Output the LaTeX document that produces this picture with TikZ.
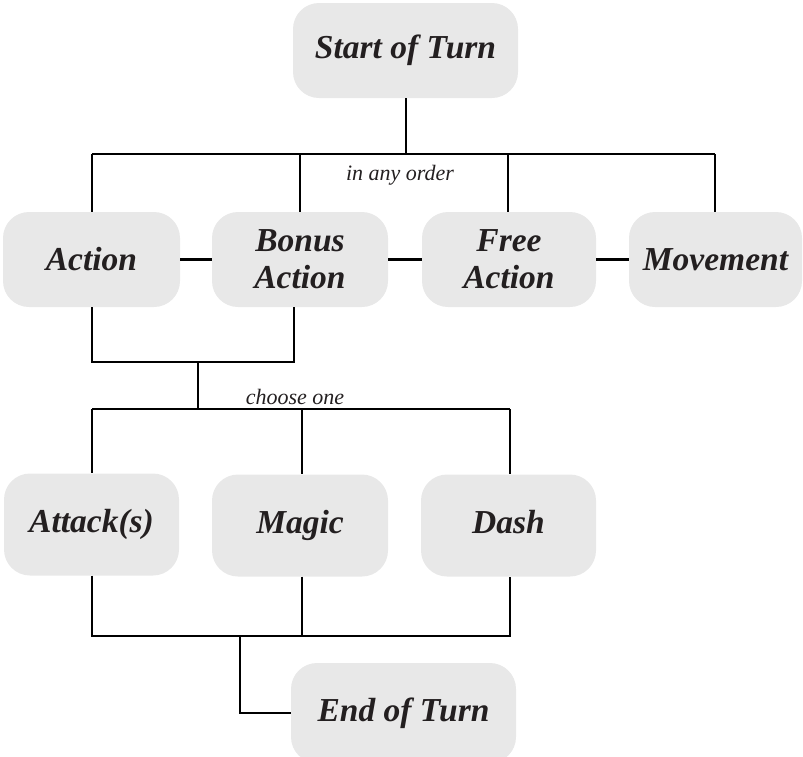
\documentclass[tikz,border=0pt]{standalone}
\usepackage{fontspec}
\setmainfont{Liberation Serif}
\definecolor{boxgray}{HTML}{E8E8E8}
\definecolor{ink}{HTML}{231F20}
\begin{document}
\begin{tikzpicture}[x=1pt,y=-1pt,
  box/.style={rectangle, rounded corners=26pt, fill=boxgray, draw=none, align=center,
    inner sep=0pt, text=ink, font=\fontsize{33.5}{37}\selectfont\bfseries\itshape},
  conn/.style={line width=2.6pt, draw=black, line join=miter},
  note/.style={font=\fontsize{22}{24}\selectfont\itshape, text=ink, inner sep=0pt}]
\useasboundingbox (0,0) rectangle (803,756);
\node[box, minimum width=225pt, minimum height=95pt] (start) at (405.5,50.5) {Start of Turn};
\node[box, minimum width=177pt, minimum height=95pt] (action) at (91.5,259.5) {Action};
\node[box, minimum width=176pt, minimum height=95pt] (bonus) at (300,259.5) {Bonus\\Action};
\node[box, minimum width=174pt, minimum height=95pt] (free) at (509,259.5) {Free\\Action};
\node[box, minimum width=173pt, minimum height=95pt] (move) at (715.5,259.5) {Movement};
\node[box, minimum width=175pt, minimum height=102pt] (attack) at (91.5,524.5) {Attack(s)};
\node[box, minimum width=176pt, minimum height=102pt] (magic) at (300,525.5) {Magic};
\node[box, minimum width=175pt, minimum height=102pt] (dash) at (508.5,525.5) {\vphantom{g}Dash};
\node[box, minimum width=225pt, minimum height=100pt] (end) at (403.5,713) {End of Turn};

\coordinate (t1) at (406,154);
\coordinate (tl) at (92,154);
\coordinate (tr) at (715,154);
\coordinate (b1) at (92,362);
\coordinate (b2) at (294,362);
\coordinate (b3) at (198,362);
\coordinate (c1) at (198,409);
\coordinate (cl) at (92,409);
\coordinate (cr) at (510,409);
\coordinate (d1) at (92,636);
\coordinate (d2) at (510,636);
\coordinate (d3) at (240,636);

\draw[conn] (start.south -| t1) -- (t1);
\draw[conn] (tl) -- (tr);
\draw[conn] (tl) -- (action.north -| tl);
\draw[conn] (300,154) -- (bonus.north -| 300,0);
\draw[conn] (508,154) -- (free.north -| 508,0);
\draw[conn] (tr) -- (move.north -| tr);
\node[note] (order) at (400,175) {in any order};

\draw[conn] (action.east) -- (bonus.west);
\draw[conn] (bonus.east) -- (free.west);
\draw[conn] (free.east) -- (move.west);

\draw[conn] (action.south -| b1) -- (b1) -- (b2) -- (bonus.south -| b2);
\draw[conn] (b3) -- (c1);
\draw[conn] (cl) -- (cr);
\node[note, anchor=base] (choose) at (295,404) {choose one};
\draw[conn] (cl) -- (attack.north -| cl);
\draw[conn] (302,409) -- (magic.north -| 302,0);
\draw[conn] (cr) -- (dash.north -| cr);

\draw[conn] (attack.south -| d1) -- (d1) -- (d2) -- (dash.south -| d2);
\draw[conn] (magic.south -| 302,0) -- (302,636);
\draw[conn] (d3) -- (end.west -| d3) -- (end.west);
\end{tikzpicture}
\end{document}
